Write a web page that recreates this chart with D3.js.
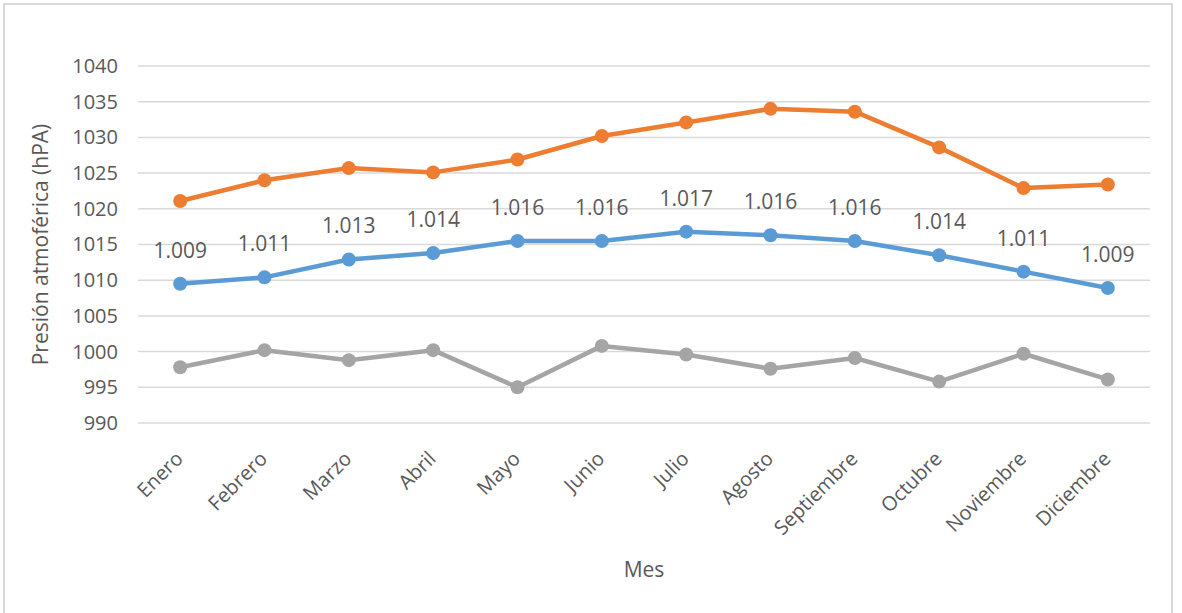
<!DOCTYPE html>
<html>
<head>
<meta charset="utf-8">
<script src="https://cdn.jsdelivr.net/npm/d3@7"></script>
<style>
  body { margin: 0; background: #fff; }
  text { font-family: "Open Sans", "Liberation Sans", sans-serif; fill: #595959; }
</style>
</head>
<body>
<div id="viz-container"></div>
<script>
var months = ["Enero", "Febrero", "Marzo", "Abril", "Mayo", "Junio", "Julio",
              "Agosto", "Septiembre", "Octubre", "Noviembre", "Diciembre"];

var maxValues  = [1021.1, 1024.0, 1025.7, 1025.1, 1026.9, 1030.2, 1032.1, 1034.0, 1033.6, 1028.6, 1022.9, 1023.4];
var meanValues = [1009.5, 1010.4, 1012.9, 1013.8, 1015.5, 1015.5, 1016.8, 1016.3, 1015.5, 1013.5, 1011.2, 1008.9];
var minValues  = [997.8, 1000.2, 998.8, 1000.2, 995.0, 1000.8, 999.6, 997.6, 999.1, 995.8, 999.7, 996.1];
var meanLabels = ["1.009", "1.011", "1.013", "1.014", "1.016", "1.016", "1.017",
                  "1.016", "1.016", "1.014", "1.011", "1.009"];
var yTicks = [990, 995, 1000, 1005, 1010, 1015, 1020, 1025, 1030, 1035, 1040];

var width = 1182, height = 613;
var margin = {top: 66, right: 32, bottom: 192, left: 138};

var svg = d3.select("#viz-container")
            .append("svg")
            .attr("width", width)
            .attr("height", height);

// chart border
svg.append("rect")
   .attr("x", 4).attr("y", 4)
   .attr("width", 1168).attr("height", 640)
   .attr("fill", "none")
   .attr("stroke", "#d9d9d9")
   .attr("stroke-width", 2);

var x = d3.scaleBand()
          .domain(months)
          .range([margin.left, width - margin.right]);

var y = d3.scaleLinear()
          .domain([990, 1040])
          .range([height - margin.bottom + 2, margin.top]);

// gridlines
svg.append("g")
   .selectAll("line")
   .data(yTicks)
   .enter().append("line")
   .attr("x1", margin.left)
   .attr("x2", width - margin.right)
   .attr("y1", function(d) { return y(d); })
   .attr("y2", function(d) { return y(d); })
   .attr("stroke", "#d9d9d9")
   .attr("stroke-width", 1.5);

// y axis labels
var yAxis = svg.append("g")
   .attr("transform", "translate(" + (margin.left - 20) + ",0)")
   .call(d3.axisLeft(y).tickValues(yTicks).tickFormat(d3.format("d")).tickSize(0).tickPadding(0));
yAxis.select(".domain").remove();
yAxis.selectAll("text")
     .style("font-size", "20px")
     .attr("fill", "#595959");

// x axis labels (rotated)
var xAxis = svg.append("g")
   .attr("transform", "translate(0," + (y(990)) + ")")
   .call(d3.axisBottom(x).tickSize(0).tickPadding(0));
xAxis.select(".domain").remove();
xAxis.selectAll("text")
     .style("font-size", "20px")
     .attr("fill", "#595959")
     .attr("text-anchor", "end")
     .attr("dy", 0)
     .attr("transform", "translate(4,37) rotate(-45)");

// axis titles
svg.append("text")
   .attr("transform", "translate(48," + ((y(990) + y(1040)) / 2) + ") rotate(-90)")
   .attr("text-anchor", "middle")
   .style("font-size", "21px")
   .text("Presión atmoférica (hPA)");

svg.append("text")
   .attr("x", (margin.left + width - margin.right) / 2)
   .attr("y", 577)
   .attr("text-anchor", "middle")
   .style("font-size", "21px")
   .text("Mes");

var series = [
  {values: maxValues,  color: "#ED7D31"},
  {values: meanValues, color: "#5B9BD5"},
  {values: minValues,  color: "#A5A5A5"}
];

var line = d3.line()
             .x(function(d, i) { return x(months[i]) + x.bandwidth() / 2; })
             .y(function(d) { return y(d); });

series.forEach(function(s) {
  svg.append("path")
     .datum(s.values)
     .attr("d", line)
     .attr("fill", "none")
     .attr("stroke", s.color)
     .attr("stroke-width", 4.5)
     .attr("stroke-linejoin", "round");

  svg.append("g")
     .selectAll("circle")
     .data(s.values)
     .enter().append("circle")
     .attr("cx", function(d, i) { return x(months[i]) + x.bandwidth() / 2; })
     .attr("cy", function(d) { return y(d); })
     .attr("r", 7)
     .attr("fill", s.color);
});

// data labels on the mean series
svg.append("g")
   .selectAll("text")
   .data(meanValues)
   .enter().append("text")
   .attr("x", function(d, i) { return x(months[i]) + x.bandwidth() / 2; })
   .attr("y", function(d) { return y(d) - 26; })
   .attr("text-anchor", "middle")
   .style("font-size", "21px")
   .text(function(d, i) { return meanLabels[i]; });
</script>
</body>
</html>
